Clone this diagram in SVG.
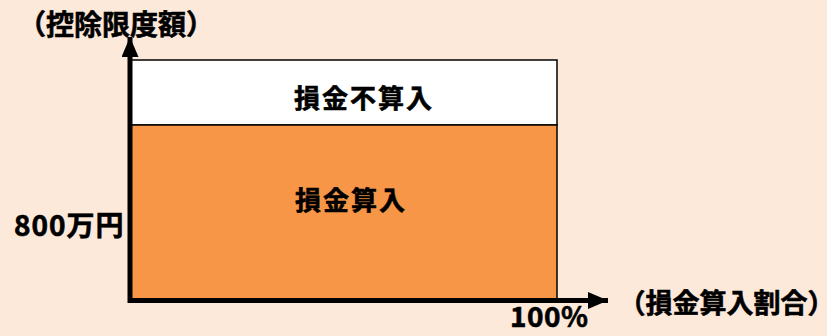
<svg xmlns="http://www.w3.org/2000/svg" width="827" height="336" viewBox="0 0 827 336">
<style>
.t{font-family:"Noto Sans CJK JP","Noto Sans",sans-serif;font-weight:bold;fill:#000;stroke:#000;stroke-width:0.6;}
.h{font-feature-settings:"halt" 1;}
.ax{stroke:#000;stroke-width:5;fill:none;}
</style>
<defs>
<marker id="ah" markerUnits="userSpaceOnUse" markerWidth="20" markerHeight="17" refX="20" refY="8.5" orient="auto">
<path d="M0,0 L20,8.5 L0,17 Z" fill="#000"/>
</marker>
</defs>
<rect width="827" height="336" fill="#FDE9DA"/>
<g id="nonDeductible">
<rect x="131" y="60" width="426" height="65" fill="#FFFFFF" stroke="#000" stroke-width="1.5"/>
<text class="t" x="364" y="108" font-size="26" text-anchor="middle" letter-spacing="2">損金不算入</text>
</g>
<g id="deductible">
<rect x="131" y="125" width="426" height="175" fill="#F79646" stroke="#000" stroke-width="1.5"/>
<text class="t" x="351" y="210" font-size="26" text-anchor="middle" letter-spacing="2">損金算入</text>
</g>
<g id="axes">
<line class="ax" x1="130" y1="303" x2="130" y2="37" marker-end="url(#ah)"/>
<line class="ax" x1="128" y1="300.5" x2="608" y2="300.5" marker-end="url(#ah)"/>
</g>
<g id="labels">
<text class="t h" x="32" y="35" font-size="28">（控除限度額）</text>
<text class="t" x="14" y="236" font-size="28" letter-spacing="1">800万円</text>
<text class="t" x="510" y="327" font-size="28" letter-spacing="0.5">100%</text>
<text class="t h" x="632" y="313" font-size="27">（損金算入割合）</text>
</g>
</svg>
